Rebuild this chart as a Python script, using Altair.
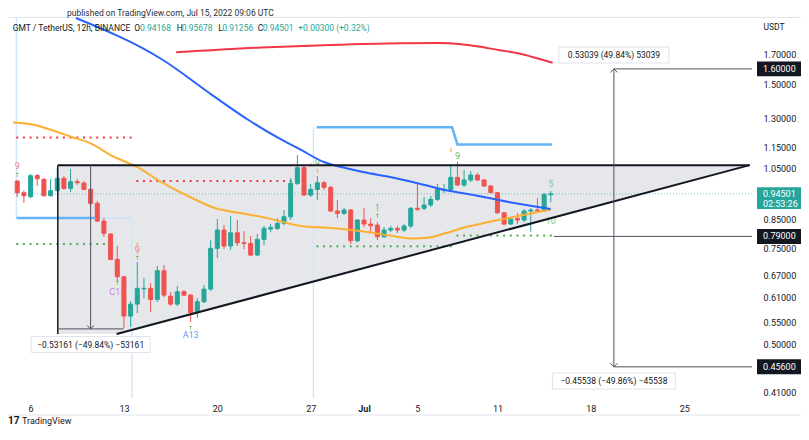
import altair as alt
import pandas as pd

# ---------------- values ----------------
# GMT/USDT 12h candles: first opens 2022-06-05 00:00 UTC, last 2022-07-15 00:00 UTC
opens = [0.9976, 0.9496, 0.9337, 1.0210, 1.0046, 0.9376, 0.9577, 1.0089, 0.9673, 0.9946,
         0.9892, 0.9631, 0.9081, 0.8428, 0.7978, 0.7171, 0.6665, 0.5647, 0.5940, 0.6333,
         0.6347, 0.6057, 0.6836, 0.6143, 0.5940, 0.6257, 0.6169, 0.5726, 0.5999, 0.6328,
         0.7512, 0.8114, 0.7586, 0.8022, 0.7691, 0.7671, 0.7303, 0.7802, 0.8148, 0.8172,
         0.8347, 0.8581, 0.9879, 1.0552, 0.9404, 0.9631, 0.9904, 0.9714, 0.8791, 0.8705,
         0.8828, 0.7756, 0.8464, 0.8322, 0.8287, 0.7889, 0.8114, 0.8172, 0.8114, 0.8252,
         0.8892, 0.8892, 0.9017, 0.9234, 0.9577, 0.9631, 1.0132, 0.9809, 1.0018, 1.0231,
         1.0018, 0.9768, 0.9496, 0.8728, 0.8322, 0.8523, 0.8464, 0.8791, 0.8828, 0.8791,
         0.94168]
highs = [1.0018, 0.9585, 1.0274, 1.0274, 1.0102, 1.0059, 1.0539, 1.0188, 1.0494, 1.0059,
         0.9976, 0.9685, 0.9170, 0.8534, 0.8012, 0.7586, 0.6685, 0.6017, 0.7090, 0.6628,
         0.6491, 0.6973, 0.7002, 0.6249, 0.6409, 0.6302, 0.6196, 0.6091, 0.6436, 0.7779,
         0.8498, 0.8287, 0.8607, 0.8464, 0.8080, 0.7913, 0.7978, 0.8252, 0.8322, 0.8534,
         0.8828, 1.0102, 1.1132, 1.0673, 0.9850, 1.0188, 0.9976, 0.9768, 0.9209, 0.8903,
         0.8866, 0.8498, 0.8903, 0.8534, 0.8393, 0.8217, 0.8252, 0.8252, 0.8322, 0.8941,
         0.9879, 0.9325, 0.9365, 0.9850, 0.9850, 1.0673, 1.0821, 1.0450, 1.0406, 1.0318,
         1.0059, 0.9809, 0.9524, 0.8754, 0.8534, 0.8717, 0.8866, 0.8903, 0.9286, 0.9484,
         0.95678]
lows = [0.9325, 0.9093, 0.9285, 0.9768, 0.9345, 0.9345, 0.9565, 0.9605, 0.9524, 0.9809,
        0.9605, 0.8941, 0.8393, 0.7879, 0.7150, 0.6546, 0.5368, 0.5391, 0.5719, 0.6091,
        0.5743, 0.5991, 0.6117, 0.5891, 0.5891, 0.6143, 0.5507, 0.5600, 0.5966, 0.6276,
        0.7211, 0.7490, 0.7460, 0.7586, 0.7490, 0.7272, 0.7272, 0.7618, 0.8046, 0.8114,
        0.8287, 0.8464, 0.9809, 0.9365, 0.9325, 0.9209, 0.9605, 0.8754, 0.8534, 0.8643,
        0.7648, 0.7714, 0.8217, 0.8046, 0.7779, 0.7846, 0.8046, 0.8012, 0.8046, 0.8183,
        0.8791, 0.8828, 0.8941, 0.9170, 0.9484, 0.9565, 0.9768, 0.9727, 0.9934, 0.9976,
        0.9727, 0.9484, 0.8680, 0.8287, 0.8287, 0.8322, 0.8393, 0.8056, 0.8717, 0.8754,
        0.91256]
closes = [0.9496, 0.9376, 1.0201, 1.0072, 0.9376, 0.9577, 1.0089, 0.9673, 0.9946, 0.9904,
          0.9631, 0.9081, 0.8428, 0.8001, 0.7171, 0.6665, 0.5647, 0.5940, 0.6347, 0.6347,
          0.6057, 0.6836, 0.6169, 0.5940, 0.6257, 0.6169, 0.5726, 0.5999, 0.6328, 0.7512,
          0.8114, 0.7586, 0.8022, 0.7691, 0.7671, 0.7303, 0.7802, 0.8172, 0.8207, 0.8347,
          0.8581, 0.9879, 1.0552, 0.9404, 0.9631, 0.9904, 0.9714, 0.8791, 0.8705, 0.8828,
          0.7756, 0.8464, 0.8322, 0.8263, 0.7889, 0.8114, 0.8172, 0.8114, 0.8252, 0.8892,
          0.8854, 0.9017, 0.9234, 0.9631, 0.9631, 1.0132, 0.9809, 1.0018, 1.0231, 1.0018,
          0.9768, 0.9496, 0.8728, 0.8322, 0.8498, 0.8464, 0.8791, 0.8828, 0.8791, 0.9431,
          0.94501]

# moving averages: days after 2022-06-06 00:00 UTC, price
blue_days = [3.395, 9.926, 13.62, 16.34, 18.85, 20.28, 21.98, 23.61, 24.94, 26.94, 28.64, 31.08, 33.59, 36.03, 38.99]
blue_vals = [1.983, 1.661, 1.433, 1.290, 1.186, 1.137, 1.081, 1.054, 1.036, 1.0145, 0.9934, 0.9605, 0.9366, 0.9112, 0.8865]
orange_days = [-1.317, 0.311, 1.790, 3.025, 4.504, 6.228, 7.951, 9.682, 11.90, 13.87, 15.84, 17.82,
               20.28, 22.50, 24.72, 26.94, 28.57, 29.90, 31.16, 32.64, 34.33, 36.55, 38.99]
orange_vals = [1.2764, 1.2631, 1.2315, 1.2023, 1.1693, 1.1052, 1.0595, 0.9976, 0.9337, 0.8893, 0.8706, 0.8524,
               0.8252, 0.8183, 0.8080, 0.7929, 0.7830, 0.7863, 0.8012, 0.8217, 0.8393, 0.8607, 0.8847]
red_days = [10.91, 17.32, 22.50, 27.68, 30.64, 32.12, 33.59, 35.07, 36.55, 38.03, 39.14]
red_vals = [1.7158, 1.7509, 1.7694, 1.7822, 1.7844, 1.7769, 1.7583, 1.7326, 1.7086, 1.6716, 1.6423]

# light-blue step lines
step1_days = [-1.06, 4.86]
step1_vals = [0.8536, 0.8536]
step1_thin_days = [4.86, 7.6]
step2_days = [21.45, 31.6, 32.0, 39.1]
step2_vals = [1.2509, 1.2509, 1.1633, 1.1633]
thin_vert_days = [-1.06, 7.6, 21.2]
thin_vert_from = [0.8536, 0.8536, 1.2509]
thin_vert_to = [1.991, 0.3999, 0.3999]

# TD dotted levels: first candle no., last candle no., price
dot_first = [1, 19, 1, 46, 67]
dot_last = [18, 42, 14, 66, 81]
dot_vals = [1.1982, 0.9976, 0.7650, 0.7577, 0.7929]
dot_cols = ["#f23645", "#f23645", "#4caf50", "#4caf50", "#4caf50"]

# TD count labels (candle no., price, text, colour)
td_candle = [1, 19, 16, 27, 55, 46, 67, 81, 81]
td_vals = [1.0610, 0.7460, 0.6241, 0.5214, 0.8892, 1.0749, 1.1071, 0.9871, 0.8435]
td_text = ["9", "9", "C13", "A13", "1", "9", "9", "5", "10"]
td_cols = ["#f47f7a", "#f47f7a", "#d07cf2", "#5b9cf6", "#66bb6a", "#66bb6a", "#66bb6a", "#81c784", "#81c784"]
arrow_candle = [1, 19, 16, 27, 55]
arrow_vals = [1.0231, 0.7211, 0.6491, 0.5375, 0.8607]
tick_candle = [19, 45, 46, 66]
tick_vals = [0.7634, 1.0673, 1.0420, 1.1368]

# triangle drawing
tri_days = [2.041, 6.45, 53.91]
tri_bottom = [0.5236, 0.5236, 1.06664]
tri_top = 1.06664

# measurement tools
meas_left_day = 4.504
meas_left_top, meas_left_bot = 1.06664, 0.53503
meas_left_h = [2.041, 6.967]
meas_right_day = 43.73
meas_right_top, meas_right_bot = 1.60, 0.456
level_079_day = 39.22
meas_labels = ["0.53039 (49.84%) 53039", "\u22120.45538 (\u221249.86%) \u221245538", "\u22120.53161 (\u221249.84%) \u221253161"]
meas_label_days = [43.73, 43.73, 4.504]
meas_label_vals = [1.6964, 0.4294, 0.5009]
meas_label_w = [110, 123, 119]

# right scale
y_ticks = [0.41, 0.50, 0.55, 0.61, 0.67, 0.75, 0.85, 1.05, 1.15, 1.30, 1.50, 1.70]
axis_box_vals = [1.60, 0.79, 0.456]
axis_box_txt = ["1.60000", "0.79000", "0.45600"]
last_price = 0.94501
countdown = "02:53:26"
x_tick_days = [0, 7, 14, 21, 25, 29, 35, 42, 49]

XMIN, XMAX = -1.3166, 54.083
YMIN, YMAX = 0.3999, 1.991

# ---------------- helpers ----------------
DAY0 = pd.Timestamp("2022-06-06T00:00:00")


def ts(d):
    return DAY0 + pd.Timedelta(minutes=round(d * 1440))


def iso(d):
    return ts(d).strftime("%Y-%m-%dT%H:%M:%SZ")


def dt(d):
    t = ts(d)
    return alt.DateTime(year=t.year, month=t.month, date=t.day, hours=t.hour, minutes=t.minute, utc=True)


def cday(n):
    return -1 + 0.5 * (n - 1)


FONT = "Roboto"
TEAL, RED = "#26a69a", "#ef5350"
XS = alt.Scale(type="utc", domain=[dt(XMIN), dt(XMAX)])
YS = alt.Scale(type="log", domain=[YMIN, YMAX], nice=False)

# one identical x axis on every layer, so that the shared axis is never disabled
X_AXIS = alt.Axis(values=[dt(d) for d in x_tick_days], format="%-d",
                  labelExpr="utcdate(datum.value) == 1 ? 'Jul' : datum.label",
                  labelFontWeight={"condition": {"test": "utcdate(datum.value) == 1", "value": "bold"},
                                   "value": "normal"},
                  ticks=False, domain=False, grid=False, labelPadding=6, labelFontSize=9,
                  labelColor="#131722", labelFont=FONT, title=None, labelFlush=False, labelOverlap=False)
Y_AXIS = alt.Axis(orient="right", values=y_ticks, format=".5f", ticks=False, tickSize=0, domain=False,
                  grid=False, labelPadding=6, labelAlign="left", labelFontSize=9, labelColor="#131722",
                  labelFont=FONT, title=None, labelOverlap=False, labelFlush=False)


def X(f="t"):
    return alt.X(f"{f}:T", scale=XS, axis=X_AXIS)


def Y(f="p"):
    return alt.Y(f"{f}:Q", scale=YS, axis=Y_AXIS)


one = pd.DataFrame({"a": [0]})


def txt(text, x, y, color="#131722", size=8.5, align="left", weight="normal", font=FONT):
    return alt.Chart(one).mark_text(text=text, align=align, baseline="middle", fontSize=size,
                                    color=color, font=font, fontWeight=weight).encode(
        x=alt.value(x), y=alt.value(y))


def hrule(d1, d2, p, color, width=1.0, **kw):
    df = pd.DataFrame({"t": [iso(d1)], "t2": [iso(d2)], "p": [p]})
    return alt.Chart(df).mark_rule(color=color, strokeWidth=width, **kw).encode(
        x=X(), x2="t2:T", y=Y())


def vrule(d, p1, p2, color, width=1.0, **kw):
    df = pd.DataFrame({"t": [iso(d)], "p": [p1], "p2": [p2]})
    return alt.Chart(df).mark_rule(color=color, strokeWidth=width, **kw).encode(
        x=X(), y=Y(), y2="p2:Q")


def pline(days, vals, color, width, interp="linear"):
    df = pd.DataFrame({"t": [iso(d) for d in days], "p": vals, "i": list(range(len(days)))})
    return alt.Chart(df).mark_line(color=color, strokeWidth=width, clip=True, interpolate=interp).encode(
        x=X(), y=Y(), order="i:Q")


layers = []

cdf = pd.DataFrame({"t": [iso(cday(i + 1)) for i in range(len(opens))],
                    "o": opens, "h": highs, "l": lows, "c": closes})
cdf["dir"] = ["up" if c >= o else "down" for o, c in zip(opens, closes)]
CS = alt.Scale(domain=["up", "down"], range=[TEAL, RED])

# faint chart frame
layers.append(alt.Chart(one).mark_rule(color="#e0e3eb").encode(x=alt.value(0), x2=alt.value(793), y=alt.value(0.5)))
layers.append(alt.Chart(one).mark_rule(color="#e0e3eb").encode(x=alt.value(0), x2=alt.value(793), y=alt.value(398)))

# triangle fill
tri_df = pd.DataFrame({"t": [iso(d) for d in tri_days], "bot": tri_bottom, "top": [tri_top] * 3})
layers.append(alt.Chart(tri_df).mark_area(color="#e6e7eb", opacity=1).encode(
    x=X(), y=Y("bot"), y2="top:Q"))

# thin light-blue verticals
for d, a, b in zip(thin_vert_days, thin_vert_from, thin_vert_to):
    layers.append(vrule(d, a, b, "#d3e7fb", 1.5))
layers.append(hrule(step1_thin_days[0], step1_thin_days[1], step1_vals[0], "#c8e1fa", 1.5))

# last price dotted line
layers.append(hrule(XMIN, XMAX, last_price, TEAL, 1, strokeDash=[1, 2], opacity=0.6))

# TD dotted levels
for a, b, v, c in zip(dot_first, dot_last, dot_vals, dot_cols):
    ddf = pd.DataFrame({"t": [iso(cday(n)) for n in range(a, b + 1)], "p": [v] * (b - a + 1)})
    layers.append(alt.Chart(ddf).mark_square(size=4, color=c, opacity=1).encode(x=X(), y=Y()))

# TD labels
td_df = pd.DataFrame({"t": [iso(cday(n)) for n in td_candle], "p": td_vals, "txt": td_text, "col": td_cols})
layers.append(alt.Chart(td_df).mark_text(fontSize=9, font=FONT, baseline="middle").encode(
    x=X(), y=Y(), text="txt:N", color=alt.Color("col:N", scale=None)))
ar_df = pd.DataFrame({"t": [iso(cday(n)) for n in arrow_candle], "p": arrow_vals})
layers.append(alt.Chart(ar_df).mark_text(text="\u2191", fontSize=6, font="DejaVu Sans", color="#4caf50",
                                         baseline="middle").encode(x=X(), y=Y()))
tk_df = pd.DataFrame({"t": [iso(cday(n)) for n in tick_candle], "p": tick_vals})
layers.append(alt.Chart(tk_df).mark_tick(orient="vertical", size=4, thickness=1.5, color="#ffa726").encode(
    x=X(), y=Y()))

# candles
layers.append(alt.Chart(cdf).mark_rule(strokeWidth=1).encode(
    x=X(), y=Y("l"), y2="h:Q",
    color=alt.Color("dir:N", scale=CS, legend=None)))
layers.append(alt.Chart(cdf).mark_bar(size=4, strokeWidth=1).encode(
    x=X(), y=Y("o"), y2="c:Q",
    color=alt.Color("dir:N", scale=CS, legend=None),
    stroke=alt.Stroke("dir:N", scale=CS, legend=None)))

# moving averages
layers.append(pline(orange_days, orange_vals, "#fbb12f", 2, "monotone"))
layers.append(pline(blue_days, blue_vals, "#2962ff", 2, "monotone"))
layers.append(pline(red_days, red_vals, "#f23645", 2, "monotone"))

# step lines
layers.append(pline(step1_days, step1_vals, "#64b5f6", 2.5))
layers.append(pline(step2_days, step2_vals, "#64b5f6", 2.5))

# triangle outline
layers.append(hrule(tri_days[0], tri_days[2], tri_top, "#131722", 2))
layers.append(pline(tri_days[1:], tri_bottom[1:], "#131722", 2))
layers.append(vrule(tri_days[0], tri_bottom[0], tri_top, "#131722", 1.5))

# measurement tools
GR = "#50535e"
layers.append(vrule(meas_left_day, meas_left_top, meas_left_bot, GR, 1))
layers.append(hrule(meas_left_h[0], meas_left_h[1], meas_left_bot, GR, 1))
layers.append(vrule(meas_right_day, meas_right_top, meas_right_bot, GR, 1))
layers.append(hrule(meas_right_day, XMAX, meas_right_top, GR, 1))
layers.append(hrule(meas_right_day, XMAX, meas_right_bot, GR, 1))
layers.append(hrule(level_079_day, XMAX, 0.79, GR, 1))
up_df = pd.DataFrame({"t": [iso(meas_right_day)], "p": [meas_right_top]})
dn_df = pd.DataFrame({"t": [iso(meas_right_day), iso(meas_left_day)], "p": [meas_right_bot, meas_left_bot]})
layers.append(alt.Chart(up_df).mark_point(shape="M-0.9,0.9L0,0L0.9,0.9", size=60, filled=False,
                                          color=GR, strokeWidth=1, opacity=1).encode(x=X(), y=Y()))
layers.append(alt.Chart(dn_df).mark_point(shape="M-0.9,-0.9L0,0L0.9,-0.9", size=60, filled=False,
                                          color=GR, strokeWidth=1, opacity=1).encode(x=X(), y=Y()))
for lab, d, v, w in zip(meas_labels, meas_label_days, meas_label_vals, meas_label_w):
    h = 16.0 / w
    path = f"M-1,-{h:.4f}L1,-{h:.4f}L1,{h:.4f}L-1,{h:.4f}Z"
    ldf = pd.DataFrame({"t": [iso(d)], "p": [v], "txt": [lab]})
    layers.append(alt.Chart(ldf).mark_point(shape=path, size=w * w, filled=True, fill="white",
                                            stroke="#e0e3eb", strokeWidth=1, opacity=1).encode(x=X(), y=Y()))
    layers.append(alt.Chart(ldf).mark_text(fontSize=8.5, font=FONT, color="#131722", baseline="middle").encode(
        x=X(), y=Y(), text="txt:N"))

# price-scale boxes
box_df = pd.DataFrame({"p": axis_box_vals, "txt": axis_box_txt})
layers.append(alt.Chart(box_df).mark_point(shape="M-1,-0.34L1,-0.34L1,0.34L-1,0.34Z", size=1936, filled=True,
                                           color="#131722", opacity=1, strokeWidth=0).encode(
    x=alt.value(771), y=Y()))
layers.append(alt.Chart(box_df).mark_text(align="left", baseline="middle", fontSize=9, font=FONT,
                                          color="white").encode(x=alt.value(755), y=Y(), text="txt:N"))
lp_df = pd.DataFrame({"p": [last_price], "txt": [f"{last_price:.5f}"], "cd": [countdown]})
layers.append(alt.Chart(lp_df).mark_point(shape="M-1,-0.30L1,-0.30L1,0.69L-1,0.69Z", size=1936, filled=True,
                                          color=TEAL, opacity=1, strokeWidth=0).encode(x=alt.value(771), y=Y()))
layers.append(alt.Chart(lp_df).mark_text(align="left", baseline="middle", fontSize=9, font=FONT,
                                         color="white").encode(x=alt.value(755), y=Y(), text="txt:N"))
layers.append(alt.Chart(lp_df).mark_text(align="left", baseline="middle", fontSize=9, font=FONT, dy=10,
                                         color="white").encode(x=alt.value(755), y=Y(), text="cd:N"))
layers.append(txt("USDT", 766, 10, size=8.5, align="center"))

# header & footer
layers.append(txt("published on TradingView.com, Jul 15, 2022 09:06 UTC", 59, -4.5, color="#2a2e39"))
layers.append(txt("GMT / TetherUS, 12h, BINANCE", 4.7, 11.3))
for lab, x in [("O", 126.3), ("H", 168.7), ("L", 210.3), ("C", 249.7)]:
    layers.append(txt(lab, x, 11.3))
for lab, x in [("0.94168", 132), ("0.95678", 173.7), ("0.91256", 214.3), ("0.94501", 254.7),
               ("+0.00300 (+0.32%)", 290.3)]:
    layers.append(txt(lab, x, 11.3, color=TEAL))
layers.append(txt("17", 0, 404, size=10, weight="bold"))
layers.append(txt("TradingView", 14, 404, size=9))

chart = alt.layer(*layers).properties(
    width=749, height=381,
    padding={"left": 0, "top": 9, "right": 44, "bottom": 28},
    autosize=alt.AutoSizeParams(type="none"),
    background="white",
).configure_view(strokeWidth=0)

chart.save("out.html", embed_options={"renderer": "svg", "actions": False})
